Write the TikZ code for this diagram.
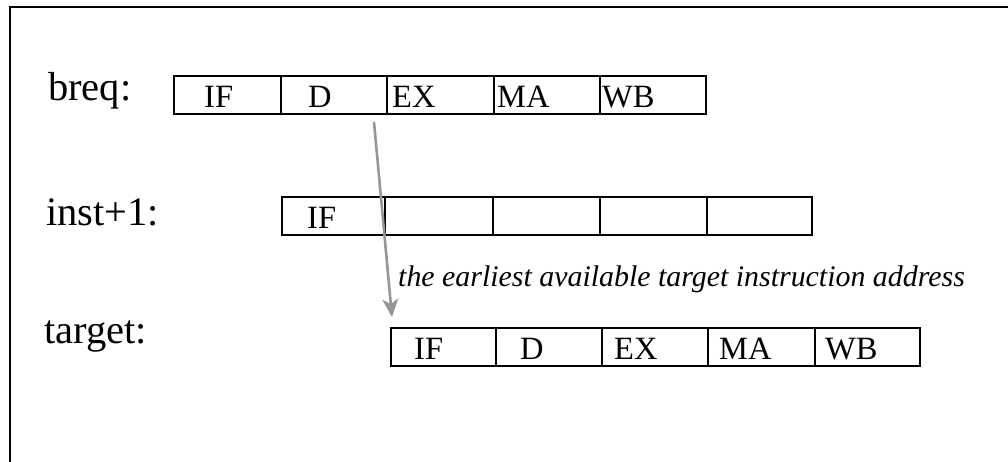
\documentclass[tikz,border=0pt]{standalone}
\usepackage{fontspec}
\setmainfont{Liberation Serif}
\usetikzlibrary{arrows.meta}
\definecolor{arrowgray}{RGB}{150,150,150}
\tikzset{
  stagebox/.style={draw=black, line width=1.8pt, rectangle, inner sep=0pt, anchor=north west, minimum height=38pt},
  stagelbl/.style={anchor=base west, inner sep=0pt, font=\fontsize{32.5}{33}\selectfont},
  rowlbl/.style={anchor=base west, inner sep=0pt, font=\fontsize{40.5}{41}\selectfont},
  notelbl/.style={anchor=base west, inner sep=0pt, font=\fontsize{29.9}{30}\selectfont\itshape},
  framel/.style={line width=2pt, black},
  jump/.style={draw=arrowgray, line width=2.6pt, -{Stealth[length=18pt,width=16pt,inset=5pt]}}
}
\begin{document}
\begin{tikzpicture}[x=1pt,y=-1pt]
\useasboundingbox (0,0) rectangle (1008,461);
% frame (cut at right and bottom)
\coordinate (ftl) at (10,7);
\coordinate (ftr) at (1010,7);
\coordinate (fbl) at (10,463);
\draw[framel] (fbl) -- (ftl) -- (ftr);

% row labels
\node[rowlbl] (lbreq) at (48,100) {breq:};
\node[rowlbl] (linst) at (46,225) {inst+1:};
\node[rowlbl] (ltarget) at (44,343) {target:};

% breq row
\node[stagebox, minimum width=107pt] (b1) at (173,75) {};
\node[stagebox, minimum width=106pt] (b2) at (280,75) {};
\node[stagebox, minimum width=107pt] (b3) at (386,75) {};
\node[stagebox, minimum width=106pt] (b4) at (493,75) {};
\node[stagebox, minimum width=106pt] (b5) at (599,75) {};
\node[stagelbl] (tb1) at (204,107) {IF};
\node[stagelbl] (tb2) at (308,107) {D};
\node[stagelbl] (tb3) at (392,107) {EX};
\node[stagelbl] (tb4) at (497,107) {MA};
\node[stagelbl] (tb5) at (602,107) {WB};

% inst+1 row
\node[stagebox, minimum width=103pt] (i1) at (281,196) {};
\node[stagebox, minimum width=108pt] (i2) at (384,196) {};
\node[stagebox, minimum width=107pt] (i3) at (492,196) {};
\node[stagebox, minimum width=107pt] (i4) at (599,196) {};
\node[stagebox, minimum width=105pt] (i5) at (706,196) {};
\node[stagelbl] (ti1) at (307,228) {IF};

% target row
\node[stagebox, minimum width=105pt] (t1) at (390,327) {};
\node[stagebox, minimum width=106pt] (t2) at (495,327) {};
\node[stagebox, minimum width=106pt] (t3) at (601,327) {};
\node[stagebox, minimum width=107pt] (t4) at (707,327) {};
\node[stagebox, minimum width=105pt] (t5) at (814,327) {};
\node[stagelbl] (tt1) at (414,359) {IF};
\node[stagelbl] (tt2) at (520,359) {D};
\node[stagelbl] (tt3) at (614,359) {EX};
\node[stagelbl] (tt4) at (719,359) {MA};
\node[stagelbl] (tt5) at (825,359) {WB};

% arrow
\coordinate (astart) at (374,122);
\coordinate (aend) at (392,317);
\draw[jump] (astart) -- (aend);
\node[notelbl] (note) at (398,286) {the earliest available target instruction address};
\end{tikzpicture}
\end{document}
